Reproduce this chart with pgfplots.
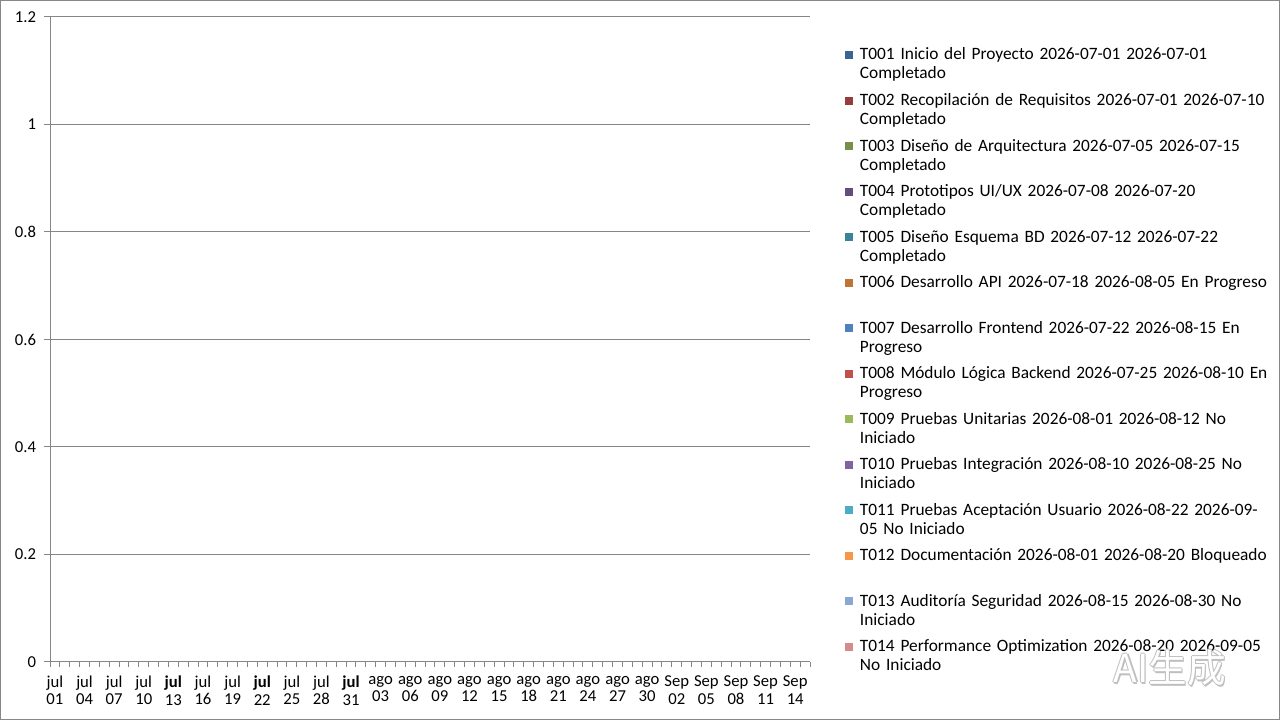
\documentclass[border=0pt]{standalone}
\usepackage{pgfplots}
\pgfplotsset{compat=1.18}
\usepackage{fontspec}
\setmainfont{Carlito}
\newfontfamily\cjk{Noto Sans CJK SC}

\definecolor{gridc}{HTML}{868686}
\definecolor{bordc}{HTML}{878787}
\definecolor{c01}{HTML}{3D6392}
\definecolor{c02}{HTML}{943E3B}
\definecolor{c03}{HTML}{779048}
\definecolor{c04}{HTML}{624D7D}
\definecolor{c05}{HTML}{3A8498}
\definecolor{c06}{HTML}{BE7436}
\definecolor{c07}{HTML}{4F81BD}
\definecolor{c08}{HTML}{C0504D}
\definecolor{c09}{HTML}{9BBB59}
\definecolor{c10}{HTML}{8064A2}
\definecolor{c11}{HTML}{4BACC6}
\definecolor{c12}{HTML}{F79646}
\definecolor{c13}{HTML}{8BA7D3}
\definecolor{c14}{HTML}{D48B89}

\begin{document}
\begin{tikzpicture}[x=1pt,y=1pt]
\useasboundingbox (0,0) rectangle (960,540);
\draw[bordc, line width=0.75pt] (0.375,0.375) rectangle (959.625,539.625);
\begin{axis}[
    at={(37.5pt,43.5pt)}, anchor=south west,
    scale only axis, width=570pt, height=483.75pt,
    xmin=-0.5, xmax=76.5,
    ymin=0, ymax=1.2,
    axis x line*=bottom, axis y line*=left,
    axis line style={gridc, line width=0.75pt},
    ytick={0,0.2,0.4,0.6,0.8,1,1.2},
    yticklabels={0,0.2,0.4,0.6,0.8,1,1.2},
    ymajorgrids=true,
    grid style={gridc, line width=0.75pt},
    xtick={0,3,...,75},
    xticklabels={{jul\\01},{jul\\04},{jul\\07},{jul\\10},{\textbf{jul}\\13},{jul\\16},
        {jul\\19},{\textbf{jul}\\22},{jul\\25},{jul\\28},{\textbf{jul}\\31},{ago\\03},
        {ago\\06},{ago\\09},{ago\\12},{ago\\15},{ago\\18},{ago\\21},{ago\\24},{ago\\27},
        {ago\\30},{Sep\\02},{Sep\\05},{Sep\\08},{Sep\\11},{Sep\\14}},
    minor xtick={-0.5,0.5,...,76.5},
    tick align=outside,
    major tick length=4.5pt,
    minor tick length=3.75pt,
    tick style={gridc, line width=0.75pt},
    major x tick style={draw=none},
    /pgf/number format/assume math mode=true,
    ticklabel style={text=black},
    xticklabel style={align=center, font=\fontsize{12.5}{13}\selectfont, yshift=-2.5pt},
    yticklabel style={font=\fontsize{12.5}{13}\selectfont, xshift=-2.5pt},
    legend style={at={(1.046,0.9535)}, anchor=north west,
        draw=none, fill=none, inner sep=0pt, outer sep=0pt,
        column sep=5.25pt, row sep=0pt,
        nodes={anchor=base west, text width=330pt, align=left,
            font=\fontsize{13}{14.25}\selectfont, inner sep=0pt,
            text height=9.75pt, text depth=24.4pt}},
    legend image code/.code={\fill[#1, draw=none] (0pt,0.75pt) rectangle (6pt,6.75pt);},
]
\addlegendimage{fill=c01}
\addlegendentry{T001 Inicio del Proyecto 2026-07-01 2026-07-01\\Completado}
\addlegendimage{fill=c02}
\addlegendentry{T002 Recopilación de Requisitos 2026-07-01 2026-07-10\\Completado}
\addlegendimage{fill=c03}
\addlegendentry{T003 Diseño de Arquitectura 2026-07-05 2026-07-15\\Completado}
\addlegendimage{fill=c04}
\addlegendentry{T004 Prototipos UI/UX 2026-07-08 2026-07-20\\Completado}
\addlegendimage{fill=c05}
\addlegendentry{T005 Diseño Esquema BD 2026-07-12 2026-07-22\\Completado}
\addlegendimage{fill=c06}
\addlegendentry{T006 Desarrollo API 2026-07-18 2026-08-05 En Progreso}
\addlegendimage{fill=c07}
\addlegendentry{T007 Desarrollo Frontend 2026-07-22 2026-08-15 En\\Progreso}
\addlegendimage{fill=c08}
\addlegendentry{T008 Módulo Lógica Backend 2026-07-25 2026-08-10 En\\Progreso}
\addlegendimage{fill=c09}
\addlegendentry{T009 Pruebas Unitarias 2026-08-01 2026-08-12 No\\Iniciado}
\addlegendimage{fill=c10}
\addlegendentry{T010 Pruebas Integración 2026-08-10 2026-08-25 No\\Iniciado}
\addlegendimage{fill=c11}
\addlegendentry{T011 Pruebas Aceptación Usuario 2026-08-22 2026-09-\\05 No Iniciado}
\addlegendimage{fill=c12}
\addlegendentry{T012 Documentación 2026-08-01 2026-08-20 Bloqueado}
\addlegendimage{fill=c13}
\addlegendentry{T013 Auditoría Seguridad 2026-08-15 2026-08-30 No\\Iniciado}
\addlegendimage{fill=c14}
\addlegendentry{T014 Performance Optimization 2026-08-20 2026-09-05\\No Iniciado}
\end{axis}
% watermark
\foreach \dx/\dy in {-0.9/0,0.9/0,0/-0.9,0/0.9,0.8/-1.4}
  \node[text=gray!50, font=\cjk\fontsize{29}{30}\selectfont] at (877.5+\dx,39+\dy) {AI生成};
\node[text=white, font=\cjk\fontsize{29}{30}\selectfont] at (877.5,39) {AI生成};
\end{tikzpicture}
\end{document}
